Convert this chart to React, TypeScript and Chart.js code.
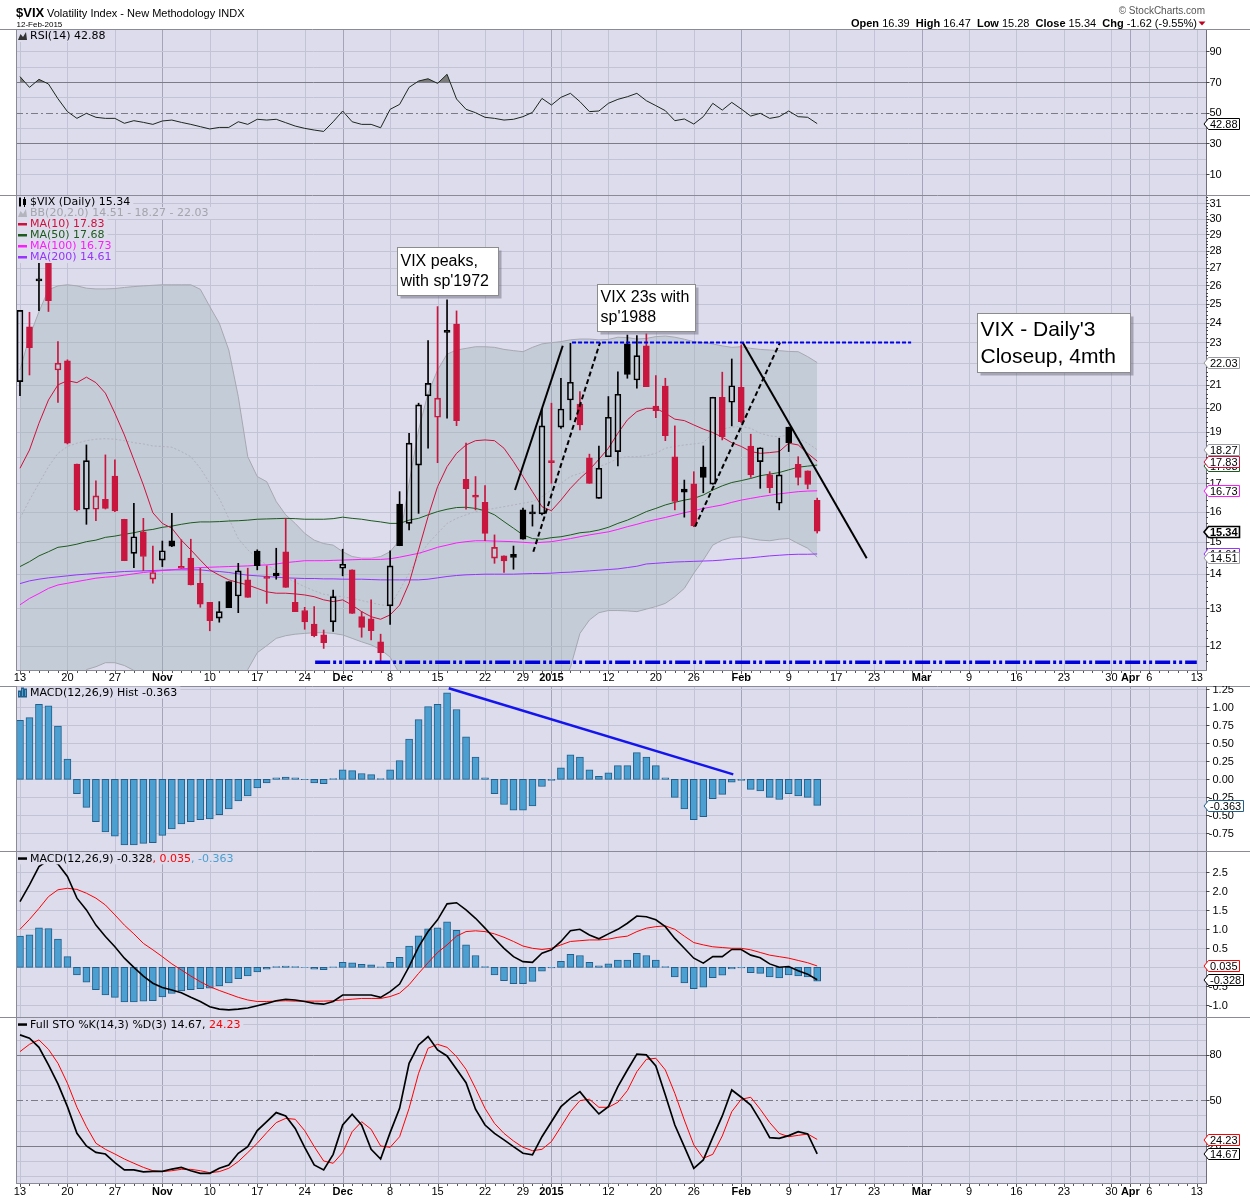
import React, { useEffect, useRef } from 'react';
import { Chart, registerables } from 'chart.js';

Chart.register(...registerables);

// ---------------- data (Oct 13 2014 .. Feb 12 2015) ----------------
const OPEN = [
  21.15, 23.79, 26.36, 27.9, 21.68, 22.11, 17.72, 16.08, 16.08, 16.43,
  17.27, 15.74, 14.63, 15.32, 13.84, 14.42, 15.03, 14.22, 14.48, 13.72,
  13.17, 12.73, 13.77, 13.35, 13.82, 14.70, 13.89, 14.02, 14.68, 13.17,
  12.94, 12.57, 12.28, 12.63, 14.17, 14.12, 12.77, 12.71, 12.10, 13.07,
  16.26, 15.60, 17.68, 20.51, 19.59, 23.58, 23.93, 17.15, 16.58, 16.32,
  14.48, 14.55, 14.60, 16.06, 15.97, 15.92, 17.82, 19.18, 20.33, 20.15,
  17.96, 16.46, 18.00, 18.20, 22.93, 21.22, 22.83, 20.07, 20.95, 18.00,
  16.79, 16.98, 17.60, 16.97, 20.45, 20.23, 20.89, 18.42, 17.81, 17.31,
  16.29, 19.18, 17.71, 17.46, 16.39,
];
const HIGH = [
  24.64, 24.54, 28.5, 28.4, 23.04, 22.16, 17.72, 18.46, 17.09, 18.07,
  17.88, 15.74, 16.29, 15.77, 14.86, 15.02, 15.94, 15.06, 15.08, 14.17,
  13.17, 13.19, 13.77, 14.32, 14.17, 14.74, 14.24, 14.79, 15.77, 13.84,
  13.03, 13.05, 12.41, 13.52, 14.76, 14.12, 12.91, 13.24, 12.30, 14.71,
  16.70, 18.93, 20.19, 23.09, 24.84, 25.20, 24.61, 18.53, 17.25, 16.92,
  15.22, 14.55, 14.86, 16.12, 16.23, 19.97, 20.19, 21.30, 22.96, 20.70,
  18.10, 18.42, 20.48, 21.60, 23.37, 23.34, 23.43, 21.42, 21.30, 19.23,
  17.12, 17.43, 18.42, 20.45, 21.58, 22.20, 22.88, 18.89, 18.35, 17.43,
  18.73, 19.18, 18.00, 17.46, 16.47,
];
const LOW = [
  20.52, 21.45, 24.62, 24.58, 20.22, 18.50, 16.02, 15.57, 15.69, 16.09,
  16.00, 14.40, 14.19, 14.10, 13.72, 14.22, 14.84, 14.17, 13.67, 13.03,
  12.39, 12.62, 13.02, 12.88, 13.31, 14.12, 13.14, 13.84, 13.60, 12.91,
  12.43, 12.23, 11.93, 12.37, 13.94, 12.86, 12.22, 12.15, 11.60, 12.56,
  14.87, 15.38, 15.94, 18.33, 17.77, 19.55, 19.24, 16.08, 16.06, 15.03,
  14.32, 14.04, 14.14, 15.08, 15.51, 15.89, 17.00, 19.13, 19.48, 19.06,
  17.00, 16.46, 18.00, 17.65, 21.30, 20.85, 20.92, 19.57, 18.63, 16.06,
  15.81, 15.49, 16.66, 16.97, 18.66, 19.23, 19.36, 17.22, 16.82, 16.66,
  16.06, 18.20, 16.94, 16.80, 15.28,
];
const CLOSE = [
  24.64, 22.75, 26.25, 25.16, 22.00, 18.53, 16.06, 17.85, 16.55, 16.11,
  16.02, 14.40, 15.16, 14.53, 14.04, 14.71, 14.86, 14.17, 13.67, 13.12,
  12.66, 12.91, 13.02, 14.09, 13.31, 14.25, 13.86, 13.94, 13.60, 12.91,
  12.63, 12.26, 12.08, 13.33, 14.29, 12.86, 12.48, 12.39, 11.82, 14.24,
  14.87, 18.53, 20.12, 21.07, 20.41, 23.50, 19.45, 16.81, 16.50, 15.27,
  14.82, 14.39, 14.50, 15.08, 15.92, 19.23, 17.77, 19.94, 21.12, 19.27,
  17.00, 17.56, 19.59, 20.58, 21.48, 22.36, 20.92, 19.87, 18.83, 16.35,
  16.68, 15.52, 17.22, 20.45, 18.79, 20.96, 19.41, 17.31, 18.35, 16.84,
  17.31, 18.55, 17.22, 16.96, 15.34,
];
const MA10 = [
  17.56, 18.26, 19.34, 20.33, 21.00, 21.19, 21.10, 21.35, 21.10, 20.63,
  19.76, 18.86, 17.88, 16.94, 15.96, 15.60, 15.44, 15.05, 14.74, 14.42,
  14.12, 13.96, 13.82, 13.74, 13.67, 13.57, 13.47, 13.43, 13.43, 13.41,
  13.38, 13.33, 13.24, 13.19, 13.24, 13.09, 12.91, 12.77, 12.70, 12.82,
  13.09, 13.72, 14.74, 15.83, 16.88, 17.62, 18.13, 18.46, 18.63, 18.66,
  18.63, 18.33, 17.81, 17.25, 16.70, 16.17, 16.03, 16.40, 16.82, 17.18,
  17.50, 17.90, 18.33, 18.93, 19.48, 19.83, 19.97, 19.97, 19.76, 19.51,
  19.45, 19.27, 19.10, 18.96, 18.77, 18.55, 18.40, 18.20, 18.13, 18.16,
  18.20, 18.53, 18.46, 18.13, 17.83,
];
const MA50 = [
  14.22, 14.37, 14.55, 14.68, 14.82, 14.86, 14.92, 15.00, 15.05, 15.14,
  15.18, 15.24, 15.29, 15.36, 15.40, 15.47, 15.51, 15.57, 15.62, 15.65,
  15.65, 15.66, 15.68, 15.69, 15.71, 15.74, 15.75, 15.76, 15.77, 15.76,
  15.74, 15.74, 15.74, 15.76, 15.81, 15.77, 15.74, 15.69, 15.65, 15.60,
  15.60, 15.71, 15.77, 15.89, 16.00, 16.08, 16.14, 16.15, 16.11, 16.03,
  15.89, 15.66, 15.44, 15.22, 15.10, 15.08, 15.13, 15.16, 15.22, 15.29,
  15.32, 15.38, 15.47, 15.60, 15.71, 15.85, 16.00, 16.11, 16.23, 16.32,
  16.40, 16.46, 16.58, 16.76, 16.91, 17.03, 17.10, 17.18, 17.28, 17.34,
  17.40, 17.50, 17.60, 17.64, 17.68,
];
const MA100 = [
  13.10, 13.28, 13.42, 13.57, 13.67, 13.72, 13.77, 13.82, 13.87, 13.90,
  13.92, 13.96, 14.00, 14.04, 14.07, 14.10, 14.12, 14.15, 14.17, 14.19,
  14.20, 14.21, 14.22, 14.23, 14.24, 14.26, 14.27, 14.30, 14.34, 14.37,
  14.40, 14.40, 14.40, 14.41, 14.42, 14.43, 14.44, 14.44, 14.44, 14.46,
  14.51, 14.57, 14.63, 14.72, 14.82, 14.89, 14.96, 15.00, 15.03, 15.03,
  15.02, 15.01, 15.00, 14.98, 14.96, 14.98, 15.00, 15.05, 15.10, 15.16,
  15.22, 15.27, 15.32, 15.40, 15.49, 15.57, 15.66, 15.73, 15.80, 15.88,
  15.96, 16.03, 16.11, 16.17, 16.23, 16.32, 16.40, 16.46, 16.52, 16.57,
  16.62, 16.66, 16.70, 16.72, 16.73,
];
const MA200 = [
  13.71, 13.79, 13.84, 13.88, 13.91, 13.94, 13.97, 13.99, 14.01, 14.03,
  14.05, 14.07, 14.08, 14.09, 14.10, 14.11, 14.12, 14.12, 14.12, 14.12,
  14.09, 14.07, 14.04, 14.00, 13.96, 13.94, 13.92, 13.90, 13.88, 13.87,
  13.86, 13.86, 13.85, 13.85, 13.84, 13.84, 13.84, 13.83, 13.82, 13.82,
  13.82, 13.82, 13.82, 13.84, 13.88, 13.92, 13.95, 13.97, 13.98, 13.99,
  13.99, 13.99, 13.99, 14.00, 14.01, 14.01, 14.02, 14.04, 14.05, 14.07,
  14.09, 14.11, 14.13, 14.15, 14.19, 14.23, 14.30, 14.32, 14.34, 14.36,
  14.37, 14.38, 14.39, 14.40, 14.42, 14.45, 14.47, 14.49, 14.52, 14.55,
  14.57, 14.59, 14.60, 14.60, 14.61,
];
const BB_UPPER = [
  21.68, 23.29, 24.57, 25.75, 25.97, 26.03, 25.97, 25.84, 25.80, 25.80,
  25.82, 25.88, 25.93, 25.97, 26.00, 26.03, 26.03, 26.03, 26.03, 25.78,
  24.84, 23.97, 22.63, 20.48, 18.00, 17.25, 17.06, 16.35, 15.89, 15.60,
  15.27, 15.05, 14.94, 14.89, 14.68, 14.53, 14.48, 14.48, 14.53, 14.68,
  15.05, 17.00, 19.06, 20.63, 21.68, 22.43, 22.63, 22.71, 22.79, 22.79,
  22.76, 22.66, 22.60, 22.55, 22.76, 22.93, 22.99, 23.04, 23.13, 23.17,
  23.17, 23.13, 23.15, 23.26, 23.24, 23.17, 23.20, 23.29, 23.32, 23.26,
  23.16, 23.04, 22.99, 22.93, 22.83, 22.76, 22.79, 22.71, 22.66, 22.63,
  22.60, 22.56, 22.55, 22.31, 22.03,
];
const BB_MID = [
  15.77, 16.40, 17.00, 17.62, 18.13, 18.40, 18.53, 18.63, 18.69, 18.71,
  18.69, 18.63, 18.55, 18.50, 18.42, 18.40, 18.37, 18.20, 18.00, 17.56,
  17.00, 16.46, 15.77, 15.10, 14.74, 14.48, 14.27, 14.10, 13.90, 13.75,
  13.62, 13.50, 13.40, 13.36, 13.33, 13.28, 13.22, 13.16, 13.10, 13.07,
  13.52, 14.02, 14.53, 14.94, 15.27, 15.60, 15.77, 15.89, 16.00, 16.06,
  16.11, 16.17, 16.23, 16.29, 16.35, 16.52, 16.76, 17.00, 17.25, 17.37,
  17.50, 17.62, 17.75, 17.94, 18.00, 18.00, 18.04, 18.13, 18.33, 18.40,
  18.46, 18.50, 18.55, 18.93, 19.10, 19.18, 19.21, 19.13, 18.93, 18.82,
  18.79, 18.86, 18.73, 18.53, 18.27,
];
const BB_LOWER = [
  9.86, 9.51, 9.43, 9.49, 10.29, 10.77, 11.09, 11.40, 11.47, 11.57,
  11.57, 11.50, 11.38, 11.10, 10.90, 10.80, 10.70, 10.40, 10.00, 9.40,
  9.20, 9.00, 8.90, 9.70, 11.40, 11.82, 12.00, 12.19, 12.26, 12.30,
  12.32, 12.34, 12.34, 12.32, 12.28, 12.19, 12.10, 12.02, 11.90, 11.71,
  11.30, 11.00, 10.00, 9.25, 8.86, 8.77, 8.91, 9.07, 9.21, 9.33,
  9.46, 9.68, 9.86, 10.03, 9.94, 10.11, 10.53, 10.96, 11.45, 12.32,
  12.68, 12.88, 12.94, 12.94, 12.93, 12.91, 12.98, 13.05, 13.14, 13.33,
  13.57, 14.02, 14.42, 14.89, 15.05, 15.14, 15.16, 15.10, 15.05, 15.03,
  15.08, 15.10, 14.94, 14.79, 14.51,
];
const RSI14 = [
  73.5, 66.5, 71.7, 68.7, 59.1, 50.7, 46.3, 49.6, 47.0, 46.3,
  46.3, 43.1, 44.8, 43.7, 42.4, 44.6, 45.2, 43.7, 42.4, 40.9,
  39.4, 40.4, 40.4, 44.1, 42.4, 45.7, 45.2, 45.7, 43.5, 41.3,
  39.8, 38.7, 37.8, 44.1, 51.1, 44.1, 42.4, 42.4, 40.2, 52.2,
  55.4, 66.5, 70.6, 72.1, 69.1, 75.0, 58.9, 52.2, 50.0, 47.0,
  46.3, 45.2, 45.7, 47.4, 50.2, 59.3, 55.0, 60.0, 62.6, 57.2,
  50.7, 51.1, 56.1, 58.7, 60.4, 62.6, 57.8, 54.6, 51.3, 44.8,
  45.9, 42.6, 47.4, 56.1, 51.7, 56.7, 52.4, 47.8, 49.6, 46.3,
  47.4, 51.1, 47.4, 47.0, 42.88,
];
const MACD_HIST = [
  0.82, 0.856, 1.04, 1.02, 0.74, 0.28, -0.20, -0.39, -0.59, -0.73,
  -0.79, -0.91, -0.91, -0.89, -0.88, -0.78, -0.69, -0.62, -0.59, -0.56,
  -0.55, -0.49, -0.41, -0.30, -0.23, -0.12, -0.05, 0.02, 0.03, 0.02,
  -0.005, -0.05, -0.06, 0.01, 0.13, 0.12, 0.08, 0.065, 0.01, 0.13,
  0.26, 0.56, 0.83, 1.01, 1.04, 1.20, 0.97, 0.59, 0.31, 0.02,
  -0.20, -0.35, -0.43, -0.43, -0.37, -0.10, -0.014, 0.16, 0.34, 0.31,
  0.13, 0.04, 0.09, 0.19, 0.19, 0.37, 0.31, 0.19, 0.02, -0.25,
  -0.41, -0.56, -0.52, -0.27, -0.21, -0.04, -0.014, -0.14, -0.16, -0.25,
  -0.28, -0.20, -0.23, -0.25, -0.363,
];
const MACD_LINE = [
  1.73, 2.17, 2.65, 2.82, 2.72, 2.39, 1.82, 1.51, 1.11, 0.81,
  0.54, 0.24, 0.00, -0.23, -0.42, -0.53, -0.60, -0.67, -0.79, -0.90,
  -1.04, -1.10, -1.12, -1.10, -1.07, -1.01, -0.95, -0.88, -0.84, -0.86,
  -0.90, -0.95, -0.97, -0.90, -0.73, -0.73, -0.73, -0.73, -0.79, -0.64,
  -0.44, 0.02, 0.54, 0.94, 1.25, 1.67, 1.70, 1.51, 1.29, 1.03,
  0.76, 0.50, 0.28, 0.15, 0.13, 0.37, 0.46, 0.68, 0.96, 1.00,
  0.85, 0.75, 0.88, 1.00, 1.16, 1.35, 1.33, 1.25, 1.07, 0.76,
  0.50, 0.24, 0.11, 0.28, 0.28, 0.47, 0.47, 0.32, 0.25, 0.09,
  0.00, 0.02, -0.09, -0.18, -0.328,
];
const MACD_SIGNAL = [
  1.00, 1.26, 1.55, 1.86, 2.04, 2.08, 2.05, 1.95, 1.82, 1.64,
  1.38, 1.11, 0.88, 0.63, 0.46, 0.28, 0.09, -0.07, -0.23, -0.38,
  -0.51, -0.61, -0.70, -0.79, -0.86, -0.90, -0.90, -0.89, -0.88, -0.89,
  -0.89, -0.89, -0.89, -0.88, -0.86, -0.84, -0.82, -0.82, -0.82, -0.77,
  -0.68, -0.46, -0.16, 0.12, 0.39, 0.59, 0.82, 0.94, 0.96, 0.94,
  0.88, 0.79, 0.68, 0.56, 0.50, 0.47, 0.50, 0.59, 0.68, 0.70,
  0.72, 0.72, 0.74, 0.79, 0.82, 0.94, 1.03, 1.07, 1.09, 1.00,
  0.82, 0.65, 0.59, 0.54, 0.52, 0.50, 0.50, 0.46, 0.39, 0.32,
  0.28, 0.24, 0.18, 0.12, 0.035,
];
const STO_K = [
  93.1, 90.9, 84.9, 73.3, 60.8, 45.8, 28.2, 19.9, 15.7, 14.6,
  8.9, 4.1, 4.1, 2.8, 3.2, 3.2, 4.7, 5.8, 3.6, 1.9,
  1.9, 5.2, 7.4, 15.1, 19.5, 30.0, 35.9, 41.9, 39.7, 31.5,
  19.0, 7.4, 4.1, 14.4, 33.7, 40.8, 33.7, 17.7, 11.3, 28.7,
  44.7, 74.4, 86.5, 92.0, 83.2, 79.2, 70.4, 61.6, 44.1, 33.7,
  28.2, 23.9, 19.5, 15.1, 14.0, 26.0, 35.9, 45.8, 51.3, 55.7,
  48.0, 41.0, 45.8, 59.0, 70.0, 80.5, 79.9, 72.6, 53.5, 33.7,
  19.5, 5.2, 10.7, 25.6, 39.7, 56.8, 52.0, 46.9, 36.6, 25.4,
  24.9, 26.7, 29.3, 27.8, 14.67,
];
const STO_D = [
  82.1, 86.9, 89.8, 83.6, 74.4, 61.2, 45.4, 32.6, 21.7, 17.7,
  14.6, 11.3, 8.5, 5.8, 3.6, 3.0, 3.6, 4.5, 4.5, 3.6,
  2.3, 3.0, 5.2, 9.6, 15.5, 21.7, 28.7, 35.3, 38.1, 37.5,
  30.0, 19.5, 10.0, 8.5, 15.5, 29.3, 35.9, 30.9, 19.9, 19.0,
  26.0, 44.7, 67.8, 84.3, 86.9, 84.9, 78.8, 70.4, 57.9, 44.7,
  34.8, 28.2, 23.2, 19.0, 16.8, 17.7, 22.8, 32.6, 42.5, 49.8,
  50.7, 45.4, 45.4, 48.7, 56.4, 68.9, 77.0, 77.7, 70.0, 54.6,
  37.0, 20.6, 11.8, 14.4, 26.5, 42.5, 50.7, 52.0, 44.1, 35.3,
  28.2, 26.0, 26.9, 27.8, 24.23,
];

// x axis: trading-day index (0 = Oct 13 2014, 124 = Apr 13 2015)
const X_TICK_POS = [0, 5, 10, 15, 20, 25, 30, 34, 39, 44, 49, 53, 56, 62, 67, 71, 76, 81, 86, 90, 95, 100, 105, 110, 115, 117, 119, 124];
const X_TICK_TEXT = ['13', '20', '27', 'Nov', '10', '17', '24', 'Dec', '8', '15', '22', '29', '2015', '12', '20', '26', 'Feb', '9', '17', '23', 'Mar', '9', '16', '23', '30', 'Apr', '6', '13'];
const MONTH_POS = [15, 34, 56, 76, 95, 117];
const WEEK_POS = [0, 5, 10, 20, 25, 30, 39, 44, 49, 53, 57, 62, 67, 71, 81, 86, 90, 100, 105, 110, 115, 119, 124];

// y tick labels
const RSI_TICKS = [90, 70, 50, 30, 10];
const PRICE_TICKS = [12, 13, 14, 15, 16, 17, 18, 19, 20, 21, 22, 23, 24, 25, 26, 27, 28, 29, 30, 31];
const HIST_TICKS = [1.25, 1.0, 0.75, 0.5, 0.25, 0, -0.25, -0.5, -0.75];
const MACD_TICKS = [2.5, 2.0, 1.5, 1.0, 0.5, 0, -0.5, -1.0];
const STO_TICKS = [80, 50, 20];

// analyst annotations (data space: trading-day index, value)
const PRICE_SEGS = [
  { x1: 52.16, y1: 16.76, x2: 57.19, y2: 22.84, color: '#000000', width: 2, dash: [] },
  { x1: 54.09, y1: 14.68, x2: 61.12, y2: 23.0, color: '#000000', width: 2, dash: [5, 3] },
  { x1: 71.13, y1: 15.49, x2: 80.08, y2: 23.0, color: '#000000', width: 2, dash: [5, 3] },
  { x1: 76.15, y1: 23.0, x2: 89.22, y2: 14.48, color: '#000000', width: 2, dash: [] },
  { x1: 58.17, y1: 23.0, x2: 93.9, y2: 23.0, color: '#0000ee', width: 2, dash: [4, 2] },
  { x1: 31.1, y1: 11.58, x2: 124.0, y2: 11.58, color: '#0000dd', width: 3.5, dash: [15, 3, 3, 3, 3, 3] },
];
const HIST_SEGS = [
  { x1: 45.18, y1: 1.264, x2: 75.16, y2: 0.069, color: '#1414ee', width: 2.5, dash: [] },
];
const PRICE_BOXES = [
  { x: 39.73, y: 28.23, lines: ['VIX peaks,', "with sp'1972"], size: 16, lh: 20, padL: 3, padR: 10, padT: 4, padB: 4 },
  { x: 60.8, y: 26.08, lines: ['VIX 23s with', "sp'1988"], size: 16, lh: 20, padL: 3, padR: 6, padT: 3, padB: 4 },
  { x: 100.8, y: 24.5, lines: ["VIX - Daily'3", 'Closeup, 4mth'], size: 21, lh: 27, padL: 3, padR: 15, padT: 3, padB: 2 },
];

// ---------------- styling ----------------
const X_MIN = -0.42;
const X_MAX = 124.97;
const LEFT = 16;
const RIGHT_W = 44;
const PANEL_BG = '#dcdcec';
const GRID = '#c3c3d6';
const MONTH_GRID = '#a4a4b8';
const DARK_LINE = '#7c7c86';
const BORDER = '#8a8a98';
const RED = '#c8163e';
const MA10_C = '#d0103c';
const MA50_C = '#1d5a1d';
const MA100_C = '#ff1aff';
const MA200_C = '#9933ff';
const BB_LINE = '#a8a8b2';
const BB_FILL = 'rgba(150,172,172,0.33)';
const HIST_FILL = '#4b9fd1';
const HIST_EDGE = '#215f8a';
const SANS = '"Liberation Sans", Arial, sans-serif';
const FONT_AXIS = '11px ' + SANS;
const FONT_LEG = '11px "DejaVu Sans", Verdana, sans-serif';

const N = CLOSE.length;
const IDX = CLOSE.map((_, i) => i);
const pts = (arr: number[]) => arr.map((y, x) => ({ x, y }));
const lastOf = (arr: number[]) => arr[arr.length - 1];
const f2 = (v: number) => v.toFixed(2);

const candleCol = IDX.map((i) => (i === 0 || CLOSE[i] >= CLOSE[i - 1] ? '#000000' : RED));
const bodyFill = IDX.map((i) => (CLOSE[i] < OPEN[i] ? candleCol[i] : 'rgba(0,0,0,0)'));

function hl(ctx: any, x1: number, x2: number, y: number) {
  ctx.beginPath(); ctx.moveTo(x1, y); ctx.lineTo(x2, y); ctx.stroke();
}
function vl(ctx: any, x: number, y1: number, y2: number) {
  ctx.beginPath(); ctx.moveTo(x, y1); ctx.lineTo(x, y2); ctx.stroke();
}

function drawIcon(ctx: any, kind: string, color: string, y: number) {
  ctx.save();
  ctx.fillStyle = color;
  ctx.strokeStyle = color;
  if (kind === 'line') {
    ctx.fillRect(18, y - 1, 9, 2.5);
  } else if (kind === 'mountain') {
    ctx.beginPath();
    ctx.moveTo(18, y + 4); ctx.lineTo(20.5, y - 2); ctx.lineTo(23, y + 1); ctx.lineTo(26, y - 4); ctx.lineTo(27, y + 4);
    ctx.closePath(); ctx.fill();
  } else if (kind === 'candle') {
    ctx.fillRect(19, y - 4, 2, 8); ctx.fillRect(19.5, y - 5, 1, 10);
    ctx.lineWidth = 1; ctx.strokeRect(23.5, y - 2.5, 2, 5); vl(ctx, 24.5, y - 5, y + 5);
  } else if (kind === 'bars') {
    ctx.fillStyle = HIST_FILL; ctx.strokeStyle = HIST_EDGE; ctx.lineWidth = 1;
    ctx.fillRect(18.5, y - 1.5, 2, 6); ctx.strokeRect(18.5, y - 1.5, 2, 6);
    ctx.fillRect(21.5, y - 4.5, 2, 9); ctx.strokeRect(21.5, y - 4.5, 2, 9);
    ctx.fillRect(24.5, y - 3.5, 2, 8); ctx.strokeRect(24.5, y - 3.5, 2, 8);
  }
  ctx.restore();
}

function drawTag(ctx: any, a: any, py: number, t: any) {
  ctx.save();
  ctx.font = (t.bold ? 'bold ' : '') + FONT_AXIS;
  const tw = ctx.measureText(t.text).width;
  const h = 11;
  const bx = a.right + 2.5;
  const bw = Math.ceil(tw) + 3;
  const top = Math.round(py - h / 2) + 0.5;
  ctx.beginPath();
  ctx.moveTo(a.right - 2, top + h / 2);
  ctx.lineTo(bx, top);
  ctx.lineTo(bx + bw, top);
  ctx.lineTo(bx + bw, top + h);
  ctx.lineTo(bx, top + h);
  ctx.closePath();
  ctx.fillStyle = '#ffffff';
  ctx.fill();
  ctx.lineWidth = t.bold ? 1.6 : 1;
  ctx.strokeStyle = t.color;
  ctx.stroke();
  ctx.fillStyle = '#000000';
  ctx.textBaseline = 'middle';
  ctx.textAlign = 'left';
  ctx.fillText(t.text, bx + 1.5, top + h / 2 + 0.5);
  ctx.restore();
}

function drawHeader(ctx: any) {
  ctx.save();
  ctx.textBaseline = 'alphabetic';
  ctx.textAlign = 'left';
  ctx.fillStyle = '#000000';
  ctx.font = 'bold 13px ' + SANS;
  ctx.fillText('$VIX', 16, 16.5);
  ctx.font = '11px ' + SANS;
  ctx.fillText('Volatility Index - New Methodology INDX', 47, 16.5);
  ctx.font = '8px ' + SANS;
  ctx.fillText('12-Feb-2015', 16.5, 26.5);
  ctx.font = '10px ' + SANS;
  ctx.fillStyle = '#555555';
  ctx.textAlign = 'right';
  ctx.fillText('\u00a9 StockCharts.com', 1205, 14);
  ctx.textAlign = 'left';
  const chg = CLOSE[N - 1] - CLOSE[N - 2];
  const pct = (chg / CLOSE[N - 2]) * 100;
  const parts: [string, boolean][] = [
    ['Open', true], [' ' + f2(OPEN[N - 1]) + '  ', false],
    ['High', true], [' ' + f2(HIGH[N - 1]) + '  ', false],
    ['Low', true], [' ' + f2(LOW[N - 1]) + '  ', false],
    ['Close', true], [' ' + f2(CLOSE[N - 1]) + '  ', false],
    ['Chg', true], [' ' + f2(chg) + ' (' + f2(pct) + '%)', false],
  ];
  let total = 0;
  for (const [t, b] of parts) { ctx.font = (b ? 'bold ' : '') + '11px ' + SANS; total += ctx.measureText(t).width; }
  let x = 1197 - total;
  for (const [t, b] of parts) {
    ctx.font = (b ? 'bold ' : '') + '11px ' + SANS;
    ctx.fillStyle = '#000000';
    ctx.fillText(t, x, 26.5);
    x += ctx.measureText(t).width;
  }
  ctx.fillStyle = '#c00020';
  ctx.beginPath(); ctx.moveTo(1198.5, 21.5); ctx.lineTo(1205.5, 21.5); ctx.lineTo(1202, 25.5); ctx.closePath(); ctx.fill();
  ctx.restore();
}

function makeDecor(cfg: any) {
  return {
    id: 'decor',
    beforeDatasetsDraw(chart: any) {
      const { ctx, chartArea: a } = chart;
      const xs = chart.scales.x;
      const ys = chart.scales.y;
      ctx.save();
      ctx.fillStyle = PANEL_BG;
      ctx.fillRect(a.left, a.top, a.right - a.left, a.bottom - a.top);
      ctx.lineWidth = 1;
      ctx.strokeStyle = GRID;
      for (const i of WEEK_POS) vl(ctx, Math.round(xs.getPixelForValue(i)) + 0.5, a.top, a.bottom);
      ctx.strokeStyle = MONTH_GRID;
      for (const i of MONTH_POS) vl(ctx, Math.round(xs.getPixelForValue(i)) + 0.5, a.top, a.bottom);
      for (const g of cfg.hgrid) {
        const py = Math.round(ys.getPixelForValue(g.v)) + 0.5;
        if (py < a.top || py > a.bottom) continue;
        ctx.strokeStyle = g.k === 'l' ? GRID : DARK_LINE;
        ctx.setLineDash(g.k === 'dd' ? [7, 3, 2, 3] : []);
        hl(ctx, a.left, a.right, py);
      }
      ctx.restore();
    },
    afterDatasetsDraw(chart: any) {
      const { ctx, chartArea: a } = chart;
      const xs = chart.scales.x;
      const ys = chart.scales.y;
      const X = (v: number) => xs.getPixelForValue(v);
      const Y = (v: number) => ys.getPixelForValue(v);
      ctx.save();
      ctx.beginPath();
      ctx.rect(a.left, a.top, a.right - a.left, a.bottom - a.top);
      ctx.clip();
      for (const s of cfg.segs || []) {
        ctx.strokeStyle = s.color; ctx.lineWidth = s.width; ctx.setLineDash(s.dash);
        ctx.beginPath(); ctx.moveTo(X(s.x1), Y(s.y1)); ctx.lineTo(X(s.x2), Y(s.y2)); ctx.stroke();
      }
      ctx.setLineDash([]);
      for (const b of cfg.boxes || []) {
        ctx.font = b.size + 'px ' + SANS;
        let tw = 0;
        for (const t of b.lines) tw = Math.max(tw, ctx.measureText(t).width);
        const bx = Math.round(X(b.x)) + 0.5;
        const by = Math.round(Y(b.y)) + 0.5;
        const bw = Math.round(tw + b.padL + b.padR);
        const bh = Math.round(b.padT + b.lines.length * b.lh + b.padB);
        ctx.fillStyle = 'rgba(110,110,130,0.5)';
        ctx.fillRect(bx + 3, by + 3, bw, bh);
        ctx.fillStyle = '#ffffff';
        ctx.fillRect(bx, by, bw, bh);
        ctx.strokeStyle = '#8c8c8c'; ctx.lineWidth = 1;
        ctx.strokeRect(bx, by, bw, bh);
        ctx.fillStyle = '#000000'; ctx.textBaseline = 'middle'; ctx.textAlign = 'left';
        b.lines.forEach((t: string, k: number) => ctx.fillText(t, bx + b.padL, by + b.padT + b.lh * (k + 0.5) + 0.5));
      }
      ctx.restore();

      ctx.save();
      // borders
      ctx.strokeStyle = BORDER; ctx.lineWidth = 1;
      const L = Math.round(a.left) + 0.5;
      const R = Math.round(a.right) + 0.5;
      const T = Math.round(a.top) + 0.5;
      const B = Math.round(a.bottom) + 0.5;
      vl(ctx, L, a.top, a.bottom + 1);
      ctx.strokeStyle = '#6e6e7c';
      vl(ctx, R, a.top, a.bottom + 1);
      ctx.strokeStyle = BORDER;
      if (cfg.top) hl(ctx, 0, 1250, T);
      if (cfg.bottom) hl(ctx, a.left, a.right + 1, B);
      // right axis labels
      ctx.font = FONT_AXIS; ctx.fillStyle = '#000000'; ctx.textBaseline = 'middle'; ctx.textAlign = 'left';
      const minusW = ctx.measureText('-').width;
      ctx.strokeStyle = '#444444';
      for (const m of cfg.minor || []) {
        const py = Math.round(Y(m)) + 0.5;
        if (py < a.top || py > a.bottom) continue;
        hl(ctx, a.right, a.right + 2, py);
      }
      for (const t of cfg.ylabels) {
        const py = Y(t.v);
        if (py < a.top - 2 || py > a.bottom + 2) continue;
        hl(ctx, a.right, a.right + 3.5, Math.round(py) + 0.5);
        ctx.fillText(t.text, cfg.labelX - (t.text[0] === '-' ? minusW : 0), py + 0.5);
      }
      for (const t of cfg.tags) drawTag(ctx, a, Y(t.v), t);
      // x axis
      if (cfg.xlabels) {
        ctx.strokeStyle = '#555555';
        for (let i = 0; i <= 124; i++) {
          const px = Math.round(X(i)) + 0.5;
          vl(ctx, px, a.bottom + 1, a.bottom + (X_TICK_POS.indexOf(i) >= 0 ? 4 : 3));
        }
        ctx.textAlign = 'center'; ctx.textBaseline = 'middle'; ctx.fillStyle = '#000000';
        X_TICK_POS.forEach((p, k) => {
          ctx.font = (MONTH_POS.indexOf(p) >= 0 ? 'bold ' : '') + FONT_AXIS;
          ctx.fillText(X_TICK_TEXT[k], X(p), a.bottom + cfg.xlabOff);
        });
      }
      // legend
      ctx.font = FONT_LEG; ctx.textBaseline = 'middle'; ctx.textAlign = 'left';
      for (const r of cfg.legend) {
        let w = 0;
        for (const s of r.segs) w += ctx.measureText(s.text).width;
        ctx.fillStyle = PANEL_BG;
        ctx.fillRect(17, r.y - 6, 14 + w + 2, 12);
        drawIcon(ctx, r.icon, r.iconColor, r.y);
        let x = 30;
        for (const s of r.segs) {
          ctx.fillStyle = s.color;
          ctx.fillText(s.text, x, r.y + 0.5);
          x += ctx.measureText(s.text).width;
        }
      }
      if (cfg.header) drawHeader(ctx);
      ctx.restore();
    },
  };
}

function baseOptions(padTop: number, padBottom: number, yMin: number, yMax: number, yType: string) {
  return {
    responsive: false,
    maintainAspectRatio: false,
    animation: false,
    events: [],
    layout: { padding: { left: LEFT, right: RIGHT_W, top: padTop, bottom: padBottom } },
    plugins: { legend: { display: false }, tooltip: { enabled: false } },
    scales: {
      x: { type: 'linear', min: X_MIN, max: X_MAX, offset: false, bounds: 'data', display: false, grid: { display: false } },
      y: { type: yType, min: yMin, max: yMax, bounds: 'data', display: false, position: 'right', grid: { display: false } },
    },
  };
}

const lineDs = (arr: number[], color: string, width: number, order: number, extra: any = {}) => ({
  type: 'line',
  data: pts(arr),
  borderColor: color,
  borderWidth: width,
  pointRadius: 0,
  tension: 0,
  fill: false,
  order,
  clip: 0,
  ...extra,
});

const gridList = (light: number[], dark: number[], dd: number[]) => [
  ...light.map((v) => ({ v, k: 'l' })),
  ...dark.map((v) => ({ v, k: 'd' })),
  ...dd.map((v) => ({ v, k: 'dd' })),
];

function rsiConfig(): any {
  return {
    type: 'line',
    data: {
      datasets: [
        lineDs(RSI14, '#1c261c', 1, 0, { fill: { target: { value: 70 }, above: '#7c7c7c', below: 'rgba(0,0,0,0)' } }),
      ],
    },
    options: baseOptions(29, 0, -3.6, 104.5, 'linear'),
    plugins: [makeDecor({
      hgrid: gridList([10, 20, 40, 60, 80, 90], [30, 70], [50]),
      ylabels: RSI_TICKS.map((v) => ({ v, text: String(v) })),
      labelX: 1209.5,
      tags: [{ v: lastOf(RSI14), text: f2(lastOf(RSI14)), color: '#000000' }],
      legend: [{ y: 36, icon: 'mountain', iconColor: '#333333', segs: [{ text: 'RSI(14) ' + f2(lastOf(RSI14)), color: '#000000' }] }],
      top: true, bottom: false, header: true,
    })],
  };
}

function priceConfig(): any {
  const minor: number[] = [];
  for (let k = 57; k <= 157; k++) { if (k % 5 !== 0) minor.push(k / 5); }
  return {
    type: 'bar',
    data: {
      datasets: [
        { type: 'bar', data: IDX.map((i) => ({ x: i, y: [OPEN[i], CLOSE[i]] })), backgroundColor: bodyFill, borderColor: candleCol, borderWidth: 1, borderSkipped: false, barThickness: 6, minBarLength: 2, grouped: false, order: 0 },
        { type: 'bar', data: IDX.map((i) => ({ x: i, y: [Math.max(OPEN[i], CLOSE[i]), HIGH[i]] })), backgroundColor: candleCol, borderWidth: 0, barThickness: 1, grouped: false, order: 1 },
        { type: 'bar', data: IDX.map((i) => ({ x: i, y: [LOW[i], Math.min(OPEN[i], CLOSE[i])] })), backgroundColor: candleCol, borderWidth: 0, barThickness: 1, grouped: false, order: 1 },
        lineDs(MA10, MA10_C, 1, 2),
        lineDs(MA50, MA50_C, 1, 3),
        lineDs(MA100, MA100_C, 1, 4),
        lineDs(MA200, MA200_C, 1, 5),
        lineDs(BB_MID, '#b2b2bc', 1, 6, { borderDash: [2, 2] }),
        lineDs(BB_UPPER, BB_LINE, 1, 7, { fill: '+1', backgroundColor: BB_FILL }),
        lineDs(BB_LOWER, BB_LINE, 1, 8),
      ],
    },
    options: baseOptions(0, 16, 11.39, 31.56, 'logarithmic'),
    plugins: [makeDecor({
      hgrid: gridList(PRICE_TICKS, [], []),
      ylabels: PRICE_TICKS.map((v) => ({ v, text: String(v) })),
      minor,
      labelX: 1209.5,
      tags: [
        { v: lastOf(MA200), text: f2(lastOf(MA200)), color: MA200_C },
        { v: lastOf(MA50), text: f2(lastOf(MA50)), color: MA50_C },
        { v: lastOf(BB_UPPER), text: f2(lastOf(BB_UPPER)), color: '#9a9aa0' },
        { v: lastOf(BB_MID), text: f2(lastOf(BB_MID)), color: '#9a9aa0' },
        { v: lastOf(MA10), text: f2(lastOf(MA10)), color: MA10_C },
        { v: lastOf(MA100), text: f2(lastOf(MA100)), color: MA100_C },
        { v: lastOf(BB_LOWER), text: f2(lastOf(BB_LOWER)), color: '#9a9aa0' },
        { v: lastOf(CLOSE), text: f2(lastOf(CLOSE)), color: '#000000', bold: true },
      ],
      legend: [
        { y: 7, icon: 'candle', iconColor: '#000000', segs: [{ text: '$VIX (Daily) ' + f2(lastOf(CLOSE)), color: '#000000' }] },
        { y: 18, icon: 'mountain', iconColor: '#b4b4bc', segs: [{ text: 'BB(20,2.0) ' + f2(lastOf(BB_LOWER)) + ' - ' + f2(lastOf(BB_MID)) + ' - ' + f2(lastOf(BB_UPPER)), color: '#a4a4ac' }] },
        { y: 29, icon: 'line', iconColor: MA10_C, segs: [{ text: 'MA(10) ' + f2(lastOf(MA10)), color: MA10_C }] },
        { y: 40, icon: 'line', iconColor: MA50_C, segs: [{ text: 'MA(50) ' + f2(lastOf(MA50)), color: MA50_C }] },
        { y: 51, icon: 'line', iconColor: MA100_C, segs: [{ text: 'MA(100) ' + f2(lastOf(MA100)), color: MA100_C }] },
        { y: 62, icon: 'line', iconColor: MA200_C, segs: [{ text: 'MA(200) ' + f2(lastOf(MA200)), color: MA200_C }] },
      ],
      segs: PRICE_SEGS,
      boxes: PRICE_BOXES,
      xlabels: true, xlabOff: 8,
      top: true, bottom: true,
    })],
  };
}

function histConfig(): any {
  return {
    type: 'bar',
    data: {
      datasets: [
        { type: 'bar', data: pts(MACD_HIST), backgroundColor: HIST_FILL, borderColor: HIST_EDGE, borderWidth: 1, borderSkipped: false, barThickness: 7, grouped: false },
      ],
    },
    options: baseOptions(0, 0, -0.996, 1.296, 'linear'),
    plugins: [makeDecor({
      hgrid: gridList(HIST_TICKS, [], []),
      ylabels: HIST_TICKS.map((v) => ({ v, text: v.toFixed(2) })),
      labelX: 1212.5,
      tags: [{ v: lastOf(MACD_HIST), text: lastOf(MACD_HIST).toFixed(3), color: HIST_EDGE }],
      legend: [{ y: 6.5, icon: 'bars', iconColor: HIST_EDGE, segs: [{ text: 'MACD(12,26,9) Hist ' + lastOf(MACD_HIST).toFixed(3), color: '#000000' }] }],
      segs: HIST_SEGS,
      top: true, bottom: false,
    })],
  };
}

function macdConfig(): any {
  return {
    type: 'bar',
    data: {
      datasets: [
        lineDs(MACD_LINE, '#000000', 1.6, 0),
        lineDs(MACD_SIGNAL, '#ff0000', 1, 1),
        { type: 'bar', data: pts(MACD_HIST), backgroundColor: HIST_FILL, borderColor: HIST_EDGE, borderWidth: 1, borderSkipped: false, barThickness: 7, grouped: false, order: 2 },
      ],
    },
    options: baseOptions(0, 0, -1.308, 3.061, 'linear'),
    plugins: [makeDecor({
      hgrid: gridList(MACD_TICKS, [], []),
      ylabels: MACD_TICKS.map((v) => ({ v, text: v.toFixed(1) })),
      labelX: 1212.5,
      tags: [
        { v: lastOf(MACD_SIGNAL), text: lastOf(MACD_SIGNAL).toFixed(3), color: '#ff0000' },
        { v: lastOf(MACD_LINE), text: lastOf(MACD_LINE).toFixed(3), color: '#000000' },
      ],
      legend: [{
        y: 7.3, icon: 'line', iconColor: '#000000', segs: [
          { text: 'MACD(12,26,9) ' + lastOf(MACD_LINE).toFixed(3), color: '#000000' },
          { text: ', ' + lastOf(MACD_SIGNAL).toFixed(3), color: '#ff0000' },
          { text: ', ' + lastOf(MACD_HIST).toFixed(3), color: HIST_FILL },
        ],
      }],
      top: true, bottom: false,
    })],
  };
}

function stoConfig(): any {
  return {
    type: 'line',
    data: {
      datasets: [
        lineDs(STO_K, '#000000', 1.7, 0),
        lineDs(STO_D, '#ff0000', 1, 1),
      ],
    },
    options: baseOptions(0, 17, -4.5, 104.9, 'linear'),
    plugins: [makeDecor({
      hgrid: gridList([0, 10, 30, 40, 60, 70, 90, 100], [20, 80], [50]),
      ylabels: STO_TICKS.map((v) => ({ v, text: String(v) })),
      labelX: 1209.5,
      tags: [
        { v: lastOf(STO_D), text: f2(lastOf(STO_D)), color: '#ff0000' },
        { v: lastOf(STO_K), text: f2(lastOf(STO_K)), color: '#000000' },
      ],
      legend: [{
        y: 7.3, icon: 'line', iconColor: '#000000', segs: [
          { text: 'Full STO %K(14,3) %D(3) ' + f2(lastOf(STO_K)) + ', ', color: '#000000' },
          { text: f2(lastOf(STO_D)), color: '#ff0000' },
        ],
      }],
      xlabels: true, xlabOff: 9,
      top: true, bottom: true,
    })],
  };
}

const PANELS = [
  { top: 0, height: 195, make: rsiConfig },
  { top: 195, height: 491, make: priceConfig },
  { top: 686, height: 165, make: histConfig },
  { top: 851, height: 166, make: macdConfig },
  { top: 1017, height: 183, make: stoConfig },
];

export default function App() {
  const refs = useRef<(HTMLCanvasElement | null)[]>([]);
  useEffect(() => {
    const charts = PANELS.map((p, k) => new Chart(refs.current[k] as HTMLCanvasElement, p.make()));
    return () => charts.forEach((c) => c.destroy());
  }, []);
  return (
    <div style={{ position: 'absolute', left: 0, top: 0, width: 1250, height: 1200, background: '#ffffff' }}>
      {PANELS.map((p, k) => (
        <canvas
          key={k}
          ref={(el) => { refs.current[k] = el; }}
          width={1250}
          height={p.height}
          style={{ position: 'absolute', left: 0, top: p.top, width: 1250, height: p.height }}
        />
      ))}
    </div>
  );
}
